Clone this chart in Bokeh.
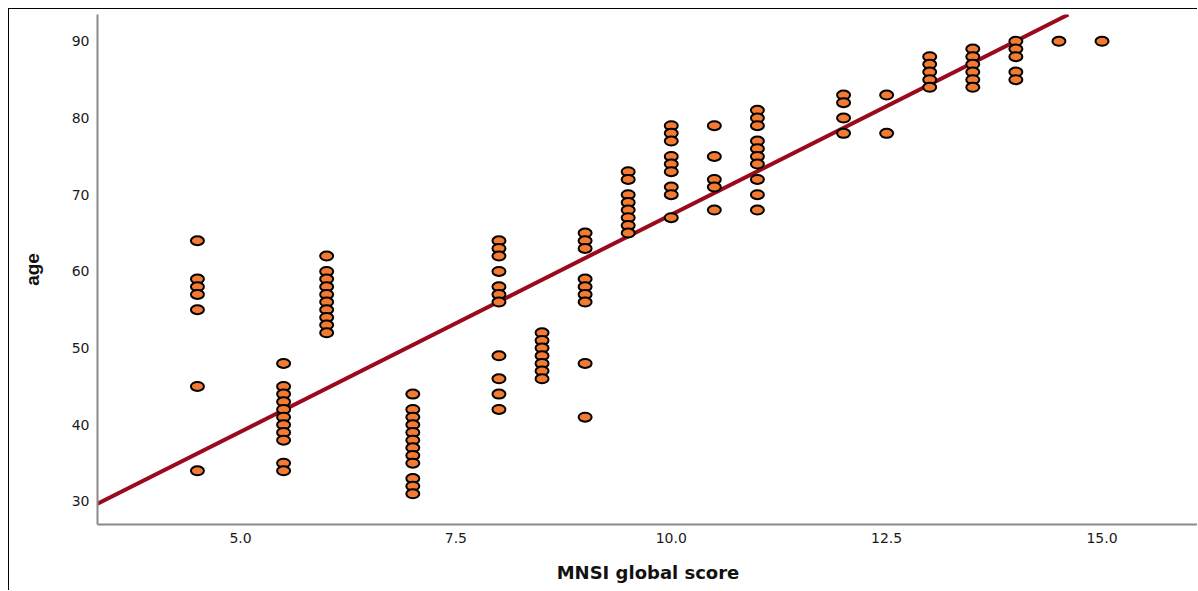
from bokeh.plotting import figure
from bokeh.models import FixedTicker, NumeralTickFormatter, ColumnDataSource
from bokeh.embed import file_html
from bokeh.resources import INLINE

# MNSI global score categories and the ages observed at each score
scores = [4.5, 5.5, 6.0, 7.0, 8.0, 8.5, 9.0, 9.5, 10.0, 10.5, 11.0, 12.0, 12.5, 13.0, 13.5, 14.0, 14.5, 15.0]
ages_4_5 = [64, 59, 58, 57, 55, 45, 34]
ages_5_5 = [48, 45, 44, 43, 42, 41, 40, 39, 38, 35, 34]
ages_6_0 = [62, 60, 59, 58, 57, 56, 55, 54, 53, 52]
ages_7_0 = [44, 42, 41, 40, 39, 38, 37, 36, 35, 33, 32, 31]
ages_8_0 = [64, 63, 62, 60, 58, 57, 56, 49, 46, 44, 42]
ages_8_5 = [52, 51, 50, 49, 48, 47, 46]
ages_9_0 = [65, 64, 63, 59, 58, 57, 56, 48, 41]
ages_9_5 = [73, 72, 70, 69, 68, 67, 66, 65]
ages_10_0 = [79, 78, 77, 75, 74, 73, 71, 70, 67]
ages_10_5 = [79, 75, 72, 71, 68]
ages_11_0 = [81, 80, 79, 77, 76, 75, 74, 72, 70, 68]
ages_12_0 = [83, 82, 80, 78]
ages_12_5 = [83, 78]
ages_13_0 = [88, 87, 86, 85, 84]
ages_13_5 = [89, 88, 87, 86, 85, 84]
ages_14_0 = [90, 89, 88, 86, 85]
ages_14_5 = [90]
ages_15_0 = [90]
age_groups = [ages_4_5, ages_5_5, ages_6_0, ages_7_0, ages_8_0, ages_8_5, ages_9_0, ages_9_5,
              ages_10_0, ages_10_5, ages_11_0, ages_12_0, ages_12_5, ages_13_0, ages_13_5,
              ages_14_0, ages_14_5, ages_15_0]

# fit line end points
fit_x = [3.34, 14.61]
fit_y = [29.7, 93.5]

x_ticks = [5.0, 7.5, 10.0, 12.5, 15.0]
y_ticks = [30, 40, 50, 60, 70, 80, 90]

xs, ys = [], []
for s, grp in zip(scores, age_groups):
    for a in grp:
        xs.append(s)
        ys.append(a)
src = ColumnDataSource(dict(x=xs, y=ys))

p = figure(width=1189, height=582, output_backend="svg", toolbar_location=None,
           x_range=(3.34, 16.12), y_range=(27.0, 93.5),
           min_border_left=88, min_border_right=0, min_border_top=5, min_border_bottom=67)
p.styles = {"margin-left": "8px", "margin-top": "8px",
            "border-left": "1px solid black", "border-top": "1px solid black"}

p.line(fit_x, fit_y, line_color="#9A0A1C", line_width=4)
p.ellipse(x="x", y="y", width=13, height=9, width_units="screen", height_units="screen",
          source=src, fill_color="#F27A33", line_color="black", line_width=2)

p.xgrid.visible = False
p.ygrid.visible = False
p.outline_line_color = None

for ax in (p.xaxis[0], p.yaxis[0]):
    ax.axis_line_color = "#8a8a8a"
    ax.axis_line_width = 2
    ax.major_tick_line_color = None
    ax.minor_tick_line_color = None
    ax.major_tick_out = 0
    ax.major_tick_in = 0
    ax.minor_tick_out = 0
    ax.minor_tick_in = 0
    ax.major_label_text_font = "DejaVu Sans"
    ax.major_label_text_font_size = "14px"
    ax.major_label_text_color = "#1a1a1a"
    ax.axis_label_text_color = "#111111"
    ax.axis_label_text_font_style = "bold"

p.xaxis.ticker = FixedTicker(ticks=x_ticks)
p.xaxis.formatter = NumeralTickFormatter(format="0.0")
p.yaxis.ticker = FixedTicker(ticks=y_ticks)

p.xaxis.axis_label = "MNSI global score"
p.xaxis.axis_label_text_font = "DejaVu Sans"
p.xaxis.axis_label_text_font_size = "18px"
p.xaxis.major_label_standoff = 8
p.xaxis.axis_label_standoff = 16

p.yaxis.axis_label = "age"
p.yaxis.axis_label_text_font = "Liberation Sans"
p.yaxis.axis_label_text_font_size = "19px"
p.yaxis.major_label_standoff = 8
p.yaxis.axis_label_standoff = 26

open("out.html", "w").write(file_html(p, INLINE))
